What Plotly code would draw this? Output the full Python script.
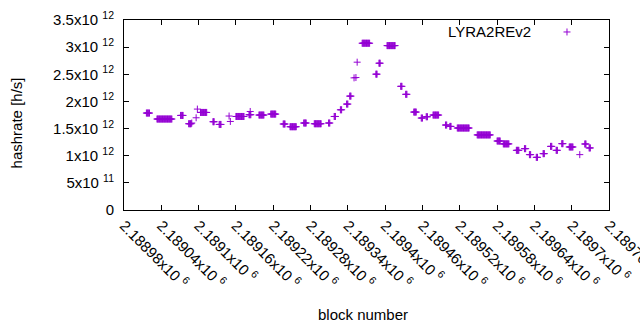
import plotly.graph_objects as go

# ---- data ----
# runs of consecutive blocks sharing the same hashrate estimate (x1e12 h/s)
run_start = [2189016, 2189033, 2189071, 2189084, 2189089, 2189096, 2189098, 2189103,
             2189123, 2189133, 2189149, 2189151, 2189160, 2189181, 2189183, 2189197,
             2189216, 2189236, 2189247, 2189269, 2189286, 2189309, 2189318, 2189328,
             2189338, 2189343, 2189350, 2189353, 2189355, 2189363, 2189385, 2189390,
             2189403, 2189425, 2189433, 2189446, 2189458, 2189466, 2189477, 2189497,
             2189504, 2189516, 2189548, 2189580, 2189590, 2189611, 2189624, 2189632,
             2189643, 2189654, 2189666, 2189675, 2189684, 2189696, 2189713, 2189721,
             2189728]
run_end = [2189021, 2189057, 2189075, 2189088, 2189089, 2189096, 2189098, 2189113,
           2189125, 2189136, 2189149, 2189151, 2189173, 2189184, 2189183, 2189205,
           2189224, 2189239, 2189257, 2189273, 2189297, 2189311, 2189320, 2189330,
           2189340, 2189345, 2189350, 2189353, 2189355, 2189375, 2189387, 2189392,
           2189416, 2189427, 2189435, 2189450, 2189460, 2189468, 2189486, 2189499,
           2189506, 2189535, 2189569, 2189585, 2189599, 2189615, 2189626, 2189634,
           2189645, 2189656, 2189668, 2189677, 2189686, 2189702, 2189713, 2189723,
           2189730]
run_value = [1.786, 1.676, 1.742, 1.589, 1.602, 1.699, 1.859, 1.797,
             1.626, 1.576, 1.731, 1.631, 1.723, 1.755, 1.815, 1.749,
             1.767, 1.584, 1.534, 1.602, 1.589, 1.602, 1.723, 1.846,
             1.951, 2.098, 2.434, 2.440, 2.723, 3.072, 2.502, 2.704,
             3.028, 2.278, 2.131, 1.804, 1.694, 1.718, 1.749, 1.565,
             1.540, 1.510, 1.383, 1.271, 1.218, 1.099, 1.130, 1.020,
             0.970, 1.038, 1.172, 1.099, 1.222, 1.161, 1.020, 1.216,
             1.143]

x_tickvals = [2188980, 2189040, 2189100, 2189160, 2189220, 2189280, 2189340,
              2189400, 2189460, 2189520, 2189580, 2189640, 2189700, 2189760]
x_ticktext = ["2.18898x10 <sup>6</sup>", "2.18904x10 <sup>6</sup>", "2.1891x10 <sup>6</sup>",
              "2.18916x10 <sup>6</sup>", "2.18922x10 <sup>6</sup>", "2.18928x10 <sup>6</sup>",
              "2.18934x10 <sup>6</sup>", "2.1894x10 <sup>6</sup>", "2.18946x10 <sup>6</sup>",
              "2.18952x10 <sup>6</sup>", "2.18958x10 <sup>6</sup>", "2.18964x10 <sup>6</sup>",
              "2.1897x10 <sup>6</sup>", "2.18976x10 <sup>6</sup>"]
y_tickvals = [0, 5e11, 1e12, 1.5e12, 2e12, 2.5e12, 3e12, 3.5e12]
y_ticktext = ["0", "5x10 <sup>11</sup>", "1x10 <sup>12</sup>", "1.5x10 <sup>12</sup>",
              "2x10 <sup>12</sup>", "2.5x10 <sup>12</sup>", "3x10 <sup>12</sup>",
              "3.5x10 <sup>12</sup>"]

series_name = "LYRA2REv2"
COLOR = "#9400D3"
FONT = "Liberation Sans"

blocks, rates = [], []
for s, e, v in zip(run_start, run_end, run_value):
    for b in range(s, e + 1):
        blocks.append(b)
        rates.append(v * 1e12)

fig = go.Figure()
fig.add_trace(go.Scatter(
    x=blocks, y=rates, mode="markers", name=series_name, showlegend=False,
    marker=dict(symbol="cross-thin", size=5, color=COLOR,
                line=dict(color=COLOR, width=1)),
))

axis_common = dict(showline=True, linecolor="black", linewidth=1, mirror="ticks",
                   ticks="inside", ticklen=5, tickcolor="black", tickwidth=1,
                   showgrid=False, zeroline=False, automargin=False,
                   ticklabeloverflow="allow",
                   tickfont=dict(family=FONT, size=15, color="black"))

fig.update_xaxes(range=[2188980, 2189760], tickmode="array", tickvals=x_tickvals,
                 ticktext=x_ticktext, tickangle=45, **axis_common)
fig.update_yaxes(range=[0, 3.5e12], tickmode="array", tickvals=y_tickvals,
                 ticktext=y_ticktext, ticklabelstandoff=6, **axis_common)

# legend (gnuplot style: text then symbol)
fig.add_annotation(text=series_name, xref="paper", yref="paper", x=0.8433, y=0.937,
                   xanchor="right", yanchor="middle", showarrow=False,
                   font=dict(family=FONT, size=15, color="black"))
lx, ly = 0.9134, 0.937
fig.add_shape(type="line", xref="paper", yref="paper", x0=lx - 0.0072, x1=lx + 0.0072,
              y0=ly, y1=ly, line=dict(color=COLOR, width=1))
fig.add_shape(type="line", xref="paper", yref="paper", x0=lx, x1=lx,
              y0=ly - 0.0184, y1=ly + 0.0184, line=dict(color=COLOR, width=1))

# axis titles
fig.add_annotation(text="block number", xref="paper", yref="paper", x=0.4934, y=-0.55,
                   xanchor="center", yanchor="middle", showarrow=False,
                   font=dict(family=FONT, size=15, color="black"))
fig.add_annotation(text="hashrate [h/s]", xref="paper", yref="paper", x=-0.221, y=0.46,
                   xanchor="center", yanchor="middle", showarrow=False, textangle=-90,
                   font=dict(family=FONT, size=15, color="black"))

fig.update_layout(width=640, height=330, margin=dict(l=124, r=31, t=20, b=120, autoexpand=False),
                  plot_bgcolor="white", paper_bgcolor="white",
                  font=dict(family=FONT, size=15, color="black"))

fig.write_html("out.html", config={"displayModeBar": False, "staticPlot": True},
               post_script="document.body.style.margin='0px';document.body.style.overflow='hidden';")
